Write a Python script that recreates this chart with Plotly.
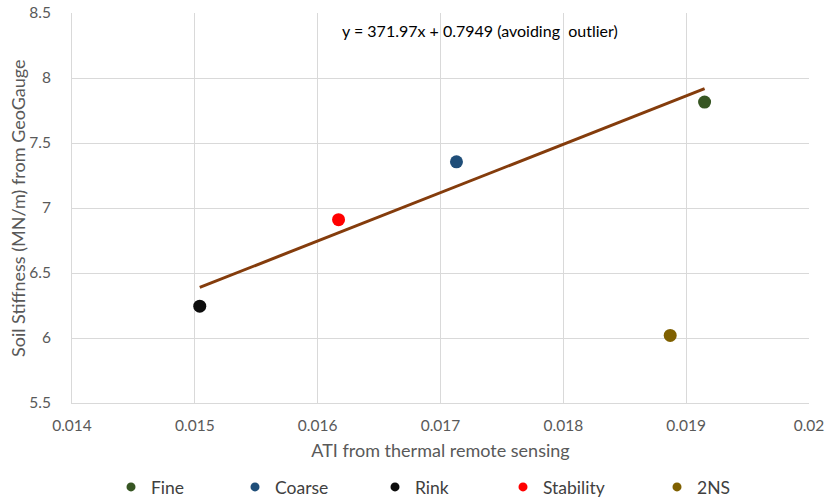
import plotly.graph_objects as go

# ---- data ----
series_names = ["Fine", "Coarse", "Rink", "Stability", "2NS"]
ati_values = [0.01915, 0.01713, 0.01504, 0.01617, 0.01887]
stiffness_values = [7.815, 7.355, 6.245, 6.91, 6.02]
series_colors = ["#375623", "#1F4E79", "#0D0D0D", "#FF0000", "#7F6000"]
outlier_name = "2NS"
trend_slope = 371.97
trend_intercept = 0.7949
trend_label = "y = 371.97x + 0.7949 (avoiding  outlier)"
x_ticks = [0.014, 0.015, 0.016, 0.017, 0.018, 0.019, 0.02]
x_tick_labels = ["0.014", "0.015", "0.016", "0.017", "0.018", "0.019", "0.02"]
y_ticks = [5.5, 6, 6.5, 7, 7.5, 8, 8.5]
y_tick_labels = ["5.5", "6", "6.5", "7", "7.5", "8", "8.5"]
x_title = "ATI from thermal remote sensing"
y_title = "Soil Stiffness (MN/m) from GeoGauge"

FONT = "Lato, Open Sans, sans-serif"
W, H = 825, 499

fig = go.Figure()

# trendline computed from equation over non-outlier x range
fit_x = [x for n, x in zip(series_names, ati_values) if n != outlier_name]
tx = [min(fit_x), max(fit_x)]
ty = [trend_slope * v + trend_intercept for v in tx]
fig.add_trace(go.Scatter(x=tx, y=ty, mode="lines", line=dict(color="#843C0C", width=3),
                         showlegend=False, hoverinfo="skip"))

legend_marker_px = [131, 255, 395, 523, 677]
for i, (n, x, y, c) in enumerate(zip(series_names, ati_values, stiffness_values, series_colors)):
    fig.add_trace(go.Scatter(x=[x], y=[y], mode="markers", name=n,
                             marker=dict(color=c, size=13), showlegend=False))
    lg = "legend" if i == 0 else f"legend{i+1}"
    fig.add_trace(go.Scatter(x=[None], y=[None], mode="markers", name=n,
                             marker=dict(color=c, size=9), legend=lg, showlegend=True))

legend_common = dict(orientation="h", xref="container", yref="container",
                     yanchor="middle", y=1 - 487 / H, bgcolor="rgba(0,0,0,0)",
                     font=dict(family=FONT, size=17.5, color="#404040"),
                     itemwidth=30, tracegroupgap=0)
layout_legends = {}
for i, px in enumerate(legend_marker_px):
    key = "legend" if i == 0 else f"legend{i+1}"
    layout_legends[key] = dict(legend_common, x=(px - 20) / W, xanchor="left")

grid = "#D9D9D9"
fig.update_layout(
    width=W, height=H,
    margin=dict(l=72, r=15.5, t=12.7, b=96.3, autoexpand=False),
    paper_bgcolor="white", plot_bgcolor="white",
    font=dict(family=FONT, color="#595959", size=15.5),
    xaxis=dict(range=[0.014, 0.02], tickvals=x_ticks, ticktext=x_tick_labels,
               showgrid=True, gridcolor=grid, gridwidth=1, zeroline=False,
               showline=True, linecolor=grid, mirror=False, ticks="",
               ticklabelstandoff=8, ticklabeloverflow="allow",
               tickfont=dict(size=15.5, color="#595959"),
               title=dict(text=x_title, font=dict(size=18, color="#595959"), standoff=11)),
    yaxis=dict(range=[5.5, 8.5], tickvals=y_ticks, ticktext=y_tick_labels,
               showgrid=True, gridcolor=grid, gridwidth=1, zeroline=False,
               showline=True, linecolor=grid, ticks="",
               ticklabelstandoff=17, ticklabeloverflow="allow",
               tickfont=dict(size=15.5, color="#595959")),
    annotations=[
        dict(text=trend_label, xref="x", yref="y", x=0.01732, y=8.365,
             showarrow=False, xanchor="center", yanchor="middle",
             font=dict(family=FONT, size=16, color="#000000")),
        dict(text=y_title, xref="paper", yref="paper", x=-71 / 737.5 + 17 / 737.5 * 0 - 0.0, y=0.5,
             showarrow=False, textangle=-90, xanchor="center", yanchor="middle",
             font=dict(family=FONT, size=18, color="#595959")),
    ],
    **layout_legends,
)
# place y title centre at 18 px from the left edge of the figure
fig.layout.annotations[1].x = (18 - 72) / (W - 72 - 15.5)

fig.write_html("out.html", config={"displayModeBar": False},
               post_script="document.body.style.margin='0';")
